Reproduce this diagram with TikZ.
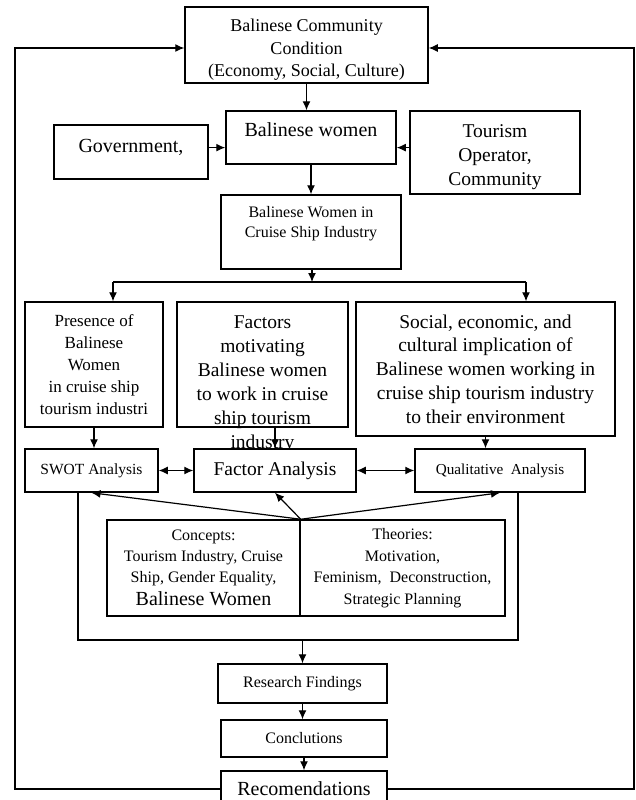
\documentclass[tikz,border=0pt]{standalone}
\usepackage{fontspec}
\setmainfont{Liberation Serif}
\usetikzlibrary{positioning,arrows.meta}
\newcommand{\fsz}[2]{\fontsize{#1}{#2}\selectfont}

\begin{document}
\begin{tikzpicture}[x=1pt,y=-1pt,>={Latex[length=9pt,width=8pt]},
  box/.style={draw,line width=1.5pt,fill=white,inner sep=0pt,align=center},
  txt/.style={inner sep=0pt,align=center},
  link/.style={line width=1.2pt}]
\path[use as bounding box,fill=white] (0,0) rectangle (636,800);

% top part
\node[box,minimum width=243pt,minimum height=76pt] (comm) at (306.5,45) {};
\node[txt,font=\fsz{18}{22.5},below=12.7pt of comm.north] (commtxt) {Balinese Community\\Condition\\(Economy, Social, Culture)};
\node[box,minimum width=170pt,minimum height=53pt] (women) at (311,137.5) {};
\node[txt,font=\fsz{20}{24},below=12pt of women.north] (womentxt) {Balinese women};
\node[box,minimum width=154pt,minimum height=54pt] (gov) at (131,152) {};
\node[txt,font=\fsz{20}{24},below=15pt of gov.north] (govtxt) {Government,};
\node[box,minimum width=170pt,minimum height=83pt] (tour) at (495,152.5) {};
\node[txt,font=\fsz{19.5}{24},below=14pt of tour.north] (tourtxt) {Tourism\\Operator,\\Community};
\node[box,minimum width=180pt,minimum height=74pt] (cruise) at (311,232) {};
\node[txt,font=\fsz{16}{20},below=12pt of cruise.north] (cruisetxt) {Balinese Women in\\Cruise Ship Industry};

% three topics
\node[box,minimum width=138pt,minimum height=125pt,font=\fsz{17}{22}] (presence) at (94,364.5) {Presence of\\Balinese\\Women\\in cruise ship\\tourism industri};
\node[box,minimum width=171pt,minimum height=125pt] (factors) at (262.5,364.5) {};
\node[txt,font=\fsz{19.5}{24},below=14pt of factors.north] (factorstxt) {Factors\\motivating\\Balinese women\\to work in cruise\\ship tourism\\industry};
\node[box,minimum width=259pt,minimum height=134pt,font=\fsz{19.5}{23.7}] (social) at (485.5,369) {Social, economic, and\\cultural implication of\\Balinese women working in\\cruise ship tourism industry\\to their environment};

% analyses
\node[box,minimum width=133pt,minimum height=43pt,font=\fsz{15.5}{19}] (swot) at (91.5,470.5) {SWOT Analysis};
\node[box,minimum width=162pt,minimum height=43pt,font=\fsz{19.5}{24}] (factana) at (275,470.5) {Factor Analysis};
\node[box,minimum width=170pt,minimum height=43pt,font=\fsz{15.2}{19}] (qual) at (500,470.5) {Qualitative\ \ Analysis};

% concepts and theories
\node[box,minimum width=193pt,minimum height=96pt,font=\fsz{16}{21}] (concepts) at (203.5,568) {Concepts:\\Tourism Industry, Cruise\\Ship, Gender Equality,\\[2pt]{\fsz{20}{24}Balinese Women}};
\node[box,minimum width=205pt,minimum height=96pt,font=\fsz{16}{21.5}] (theories) at (402.5,568) {Theories:\\Motivation,\\Feminism,\ \ Deconstruction,\\Strategic Planning};

% results
\node[box,minimum width=169pt,minimum height=39pt,font=\fsz{16}{20}] (research) at (302.5,683.5) {Research Findings};
\node[box,minimum width=166pt,minimum height=37pt,font=\fsz{16}{20}] (concl) at (304,738.5) {Conclutions};
\node[box,minimum width=166pt,minimum height=36pt,font=\fsz{20}{24}] (recom) at (304,789) {Recomendations};

\coordinate (split) at (312,282);
\coordinate (splitL) at (113,282);
\coordinate (splitR) at (526,282);
\coordinate (frameL) at (78,640);
\coordinate (frameR) at (518,640);
\coordinate (backL) at (15,48);
\coordinate (backR) at (634,48);

\path[->,link] (comm.south) edge (comm.south |- women.north)
  (govtxt.east -| gov.east) edge (govtxt.east -| women.west)
  (govtxt.east -| tour.west) edge (govtxt.east -| women.east)
  (women.south) edge (cruise.north)
  (cruise.south -| split) edge (split)
  (splitL) edge (splitL |- presence.north)
  (splitR) edge (splitR |- social.north)
  (presence.south) edge (presence.south |- swot.north)
  (factana.north |- factors.south) edge (factana.north)
  (social.south) edge (social.south |- qual.north)
  (concepts.north east) edge (swot.south)
  (concepts.north east) edge (factana.south)
  (concepts.north east) edge (qual.south)
  (research.south) edge (research.south |- concl.north)
  (concl.south) edge (recom.north);
\path[<->,link] (swot) edge (factana)
  (factana) edge (qual);
\draw[link] (splitL) -- (splitR);
\draw[link] (swot.south -| frameL) |- (frameR) -- (qual.south -| frameR);
\draw[->,link] (research.north |- frameL) -- (research.north);
\draw[->,link] (recom.west) -| (backL) -- (backL -| comm.west);
\draw[->,link] (recom.east) -| (backR) -- (backR -| comm.east);
\end{tikzpicture}
\end{document}
